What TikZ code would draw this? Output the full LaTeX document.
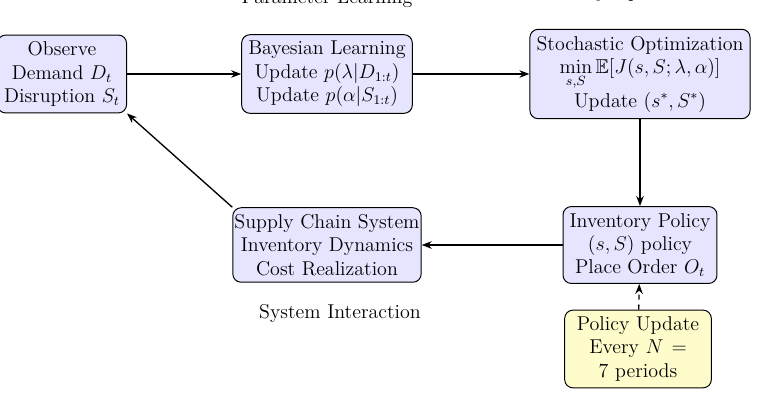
\documentclass[tikz,border=0pt]{standalone}
\usepackage{amsmath,amssymb}
\usetikzlibrary{arrows.meta}
\tikzset{every picture/.style={line width=0.6pt}}
\tikzset{
  box/.style={draw, rounded corners=5pt, fill=blue!10, align=center, font=\large, inner sep=4pt},
  note/.style={draw, rounded corners=5pt, fill=yellow!20, align=center, font=\large, text width=80pt, inner sep=4pt},
  flow/.style={-{Stealth[length=6pt]}, line width=0.8pt}
}

\begin{document}
\begin{tikzpicture}[x=0.6pt,y=0.6pt,yscale=-1,xscale=1]
\useasboundingbox (0,0) rectangle (770,410);

% Nodes
\node[box] (obs) at (62,74) {Observe\\Demand $D_t$\\Disruption $S_t$};
\node[box] (bay) at (327,74) {Bayesian Learning\\Update $p(\lambda|D_{1:t})$\\Update $p(\alpha|S_{1:t})$};
\node[box] (opt) at (640,74) {Stochastic Optimization\\$\displaystyle\min_{s,S}\mathbb{E}[J(s,S;\lambda,\alpha)]$\\Update $(s^*,S^*)$};
\node[box] (pol) at (640,245) {Inventory Policy\\$(s,S)$ policy\\Place Order $O_t$};
\node[box, inner xsep=1pt] (sys) at (327,245) {Supply Chain System\\Inventory Dynamics\\Cost Realization};
\node[note] (upd) at (638,349) {Policy Update\\Every $N=$\\7 periods};

% Labels
\node[font=\large] (lbl1) at (327,-1) {Parameter Learning};
\node[font=\large] (lbl2) at (640,-7) {Policy Optimization};
\node[font=\large] (lbl3) at (340,314) {System Interaction};

% Connectors
\draw[flow] (obs) -- (bay);
\draw[flow] (bay) -- (opt);
\draw[flow] (opt) -- (pol);
\draw[flow] (pol) -- (sys);
\draw[flow] (sys.north west) -- (obs.south east);
\draw[flow, dashed] (upd) -- (pol);

\end{tikzpicture}
\end{document}
